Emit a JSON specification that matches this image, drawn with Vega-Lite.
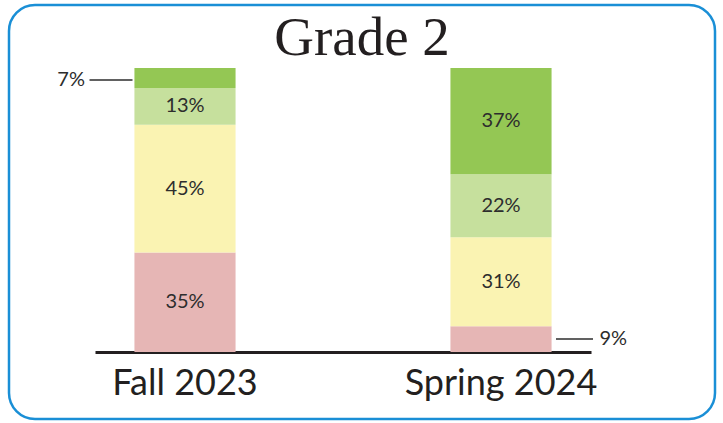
{
  "$schema": "https://vega.github.io/schema/vega-lite/v6.json",
  "autosize": "none",
  "width": 706,
  "height": 414,
  "padding": {"left": 9, "top": 5, "right": 8, "bottom": 4},
  "background": "white",
  "config": {"view": {"stroke": "#1a8fd6", "strokeWidth": 2.5, "cornerRadius": 26}},
  "title": {"text": "Grade 2", "font": "Liberation Serif", "fontSize": 55, "fontWeight": "normal", "color": "#231f20", "anchor": "middle", "frame": "group", "baseline": "alphabetic", "offset": -105},
  "data": {"values": [
    {"term": "Fall 2023", "level": "Below", "rank": 1, "value": 35, "label": "35%"},
    {"term": "Fall 2023", "level": "Approaching", "rank": 2, "value": 45, "label": "45%"},
    {"term": "Fall 2023", "level": "Meeting", "rank": 3, "value": 13, "label": "13%"},
    {"term": "Fall 2023", "level": "Exceeding", "rank": 4, "value": 7, "label": "7%"},
    {"term": "Spring 2024", "level": "Below", "rank": 1, "value": 9, "label": "9%"},
    {"term": "Spring 2024", "level": "Approaching", "rank": 2, "value": 31, "label": "31%"},
    {"term": "Spring 2024", "level": "Meeting", "rank": 3, "value": 22, "label": "22%"},
    {"term": "Spring 2024", "level": "Exceeding", "rank": 4, "value": 37, "label": "37%"}
  ]},
  "encoding": {
    "x": {"field": "term", "type": "nominal", "sort": ["Fall 2023", "Spring 2024"],
      "scale": {"range": [86, 582], "paddingInner": 0.68, "paddingOuter": 0.1248},
      "axis": {"title": null, "domain": true, "domainColor": "#231f20", "domainWidth": 3, "ticks": false, "grid": false,
        "labelFont": "Lato", "labelFontSize": 36, "labelColor": "#231f20", "labelAngle": 0, "labelLimit": 400,
        "labelBaseline": "alphabetic", "labelPadding": 42, "offset": -67}},
    "order": {"field": "rank", "type": "quantitative"}
  },
  "layer": [
    {
      "mark": {"type": "bar"},
      "encoding": {
        "y": {"field": "value", "type": "quantitative", "stack": "normalize", "scale": {"domain": [0, 1], "range": [347, 63]}, "axis": null},
        "color": {"field": "level", "type": "nominal",
          "scale": {"domain": ["Below", "Approaching", "Meeting", "Exceeding"], "range": ["#e6b6b5", "#faf3b2", "#c6e09d", "#94c754"]},
          "legend": null}
      }
    },
    {
      "mark": {"type": "text", "font": "Lato", "fontSize": 20, "color": "#2d2d2d", "baseline": "middle", "align": "center"},
      "encoding": {
        "y": {"field": "value", "type": "quantitative", "stack": "normalize", "bandPosition": 0.5, "scale": {"domain": [0, 1], "range": [347, 63]}, "axis": null},
        "detail": {"field": "level", "type": "nominal"},
        "text": {"condition": {"test": "datum.value >= 10", "field": "label", "type": "nominal"}, "value": ""}
      }
    },
    {
      "mark": {"type": "text", "font": "Lato", "fontSize": 20, "color": "#2d2d2d", "baseline": "middle", "align": "right", "dx": -100, "dy": 2},
      "encoding": {
        "y": {"field": "value", "type": "quantitative", "stack": "normalize", "bandPosition": 0.5, "scale": {"domain": [0, 1], "range": [347, 63]}, "axis": null},
        "detail": {"field": "level", "type": "nominal"},
        "text": {"condition": {"test": "datum.term === 'Fall 2023' && datum.value < 10", "field": "label", "type": "nominal"}, "value": ""}
      }
    },
    {
      "mark": {"type": "text", "font": "Lato", "fontSize": 20, "color": "#2d2d2d", "baseline": "middle", "align": "left", "dx": 98.5},
      "encoding": {
        "y": {"field": "value", "type": "quantitative", "stack": "normalize", "bandPosition": 0.5, "scale": {"domain": [0, 1], "range": [347, 63]}, "axis": null},
        "detail": {"field": "level", "type": "nominal"},
        "text": {"condition": {"test": "datum.term === 'Spring 2024' && datum.value < 10", "field": "label", "type": "nominal"}, "value": ""}
      }
    },
    {
      "mark": {"type": "tick", "orient": "horizontal", "size": 43, "thickness": 1.5, "color": "#2d2d2d", "xOffset": -74, "yOffset": 2},
      "encoding": {
        "y": {"field": "value", "type": "quantitative", "stack": "normalize", "bandPosition": 0.5, "scale": {"domain": [0, 1], "range": [347, 63]}, "axis": null},
        "detail": {"field": "level", "type": "nominal"},
        "opacity": {"condition": {"test": "datum.term === 'Fall 2023' && datum.value < 10", "value": 1}, "value": 0}
      }
    },
    {
      "mark": {"type": "tick", "orient": "horizontal", "size": 37, "thickness": 1.5, "color": "#2d2d2d", "xOffset": 73.5},
      "encoding": {
        "y": {"field": "value", "type": "quantitative", "stack": "normalize", "bandPosition": 0.5, "scale": {"domain": [0, 1], "range": [347, 63]}, "axis": null},
        "detail": {"field": "level", "type": "nominal"},
        "opacity": {"condition": {"test": "datum.term === 'Spring 2024' && datum.value < 10", "value": 1}, "value": 0}
      }
    }
  ]
}
